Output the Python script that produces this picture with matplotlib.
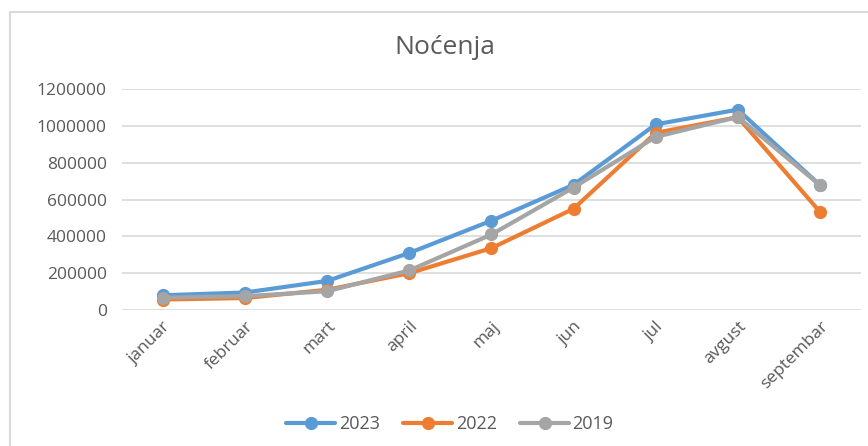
import matplotlib.pyplot as plt
from matplotlib.patches import Rectangle

months = ["januar", "februar", "mart", "april", "maj", "jun", "jul", "avgust", "septembar"]
y2023 = [80000, 95000, 158000, 310000, 485000, 680000, 1008000, 1088000, 678000]
y2022 = [57000, 65000, 110000, 200000, 336000, 550000, 962000, 1047000, 533000]
y2019 = [67000, 75000, 102000, 215000, 410000, 665000, 940000, 1048000, 678000]

series = [("2023", y2023, "#5B9BD5"), ("2022", y2022, "#ED7D31"), ("2019", y2019, "#A5A5A5")]

plt.rcParams['font.family'] = ['Open Sans', 'DejaVu Sans']
W, H = 868, 446
fig = plt.figure(figsize=(W / 100, H / 100), dpi=100)

# chart frame
fig.patches.append(Rectangle((10 / W, -0.1), 1.2, (H - 12) / H + 0.1, transform=fig.transFigure,
                             fill=False, edgecolor="#d9d9d9", lw=1.5))

ax = fig.add_axes([122 / W, (H - 310) / H, 739 / W, 221 / H])
x = range(len(months))
for name, vals, col in series:
    ax.plot(x, vals, color=col, lw=3, marker="o", ms=8.5, label=name, solid_capstyle="round")

ax.set_xlim(-0.5, len(months) - 0.5)
ax.set_ylim(0, 1200000)
ax.set_yticks(range(0, 1200001, 200000))
ax.set_yticklabels([str(v) for v in range(0, 1200001, 200000)])
ax.set_xticks(list(x))
ax.set_xticklabels(months, rotation=45, ha="right", va="top", rotation_mode="anchor")
ax.tick_params(length=0, labelsize=12.5, labelcolor="#595959")
ax.tick_params(axis="y", pad=11)
ax.tick_params(axis="x", pad=6)
ax.grid(axis="y", color="#d9d9d9", lw=1.2)
ax.set_axisbelow(True)
for s in ax.spines.values():
    s.set_visible(False)

fig.text(445 / W, 1 - 47 / H, "Noćenja", ha="center", va="center", fontsize=19, color="#595959")

fig.legend(loc="center", bbox_to_anchor=(450 / W, 1 - 424 / H), ncol=3, frameon=False,
           fontsize=13, labelcolor="#595959", handlelength=2.7, handletextpad=0.2, columnspacing=1.3)

fig.savefig("out.png", dpi=100)
